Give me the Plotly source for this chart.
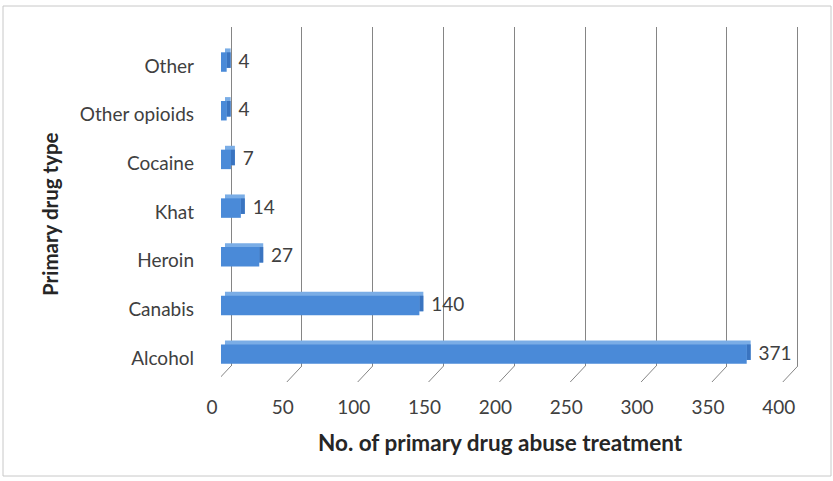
import plotly.graph_objects as go

categories = ["Alcohol", "Canabis", "Heroin", "Khat", "Cocaine", "Other opioids", "Other"]
values = [371, 140, 27, 14, 7, 4, 4]
x_ticks = [0, 50, 100, 150, 200, 250, 300, 350, 400]

W, H = 833, 481
L, R, T, B = 221, 33, 27, 115
PW, PH = W - L - R, H - T - B
PXU = 1.417                      # px per data unit on the value axis
DEPTH = 2.8                      # 3-D depth (data units)
GRID_SHIFT = 7.06                # back wall offset (data units)

pos = list(range(len(categories)))
font_fam = "Lato, Open Sans, sans-serif"
txt = "#404040"
FS = 19

fig = go.Figure()
# top face (lighter)
fig.add_trace(go.Bar(y=pos, x=values, base=DEPTH, orientation="h", width=0.40, offset=-0.04,
                     marker=dict(color="#7aade6", line=dict(width=0)), hoverinfo="skip", showlegend=False))
# side face (darker) with value labels
fig.add_trace(go.Bar(y=pos, x=[DEPTH] * len(values), base=values, orientation="h", width=0.32, offset=-0.04,
                     marker=dict(color="#3a74c0", line=dict(width=0)), text=[f" {v}" for v in values],
                     textposition="outside", constraintext="none", cliponaxis=False,
                     textfont=dict(family=font_fam, size=FS, color=txt), hoverinfo="skip", showlegend=False))
# front face
fig.add_trace(go.Bar(y=pos, x=values, orientation="h", width=0.40, offset=-0.12,
                     marker=dict(color="#4a8ad8", line=dict(width=0)), hoverinfo="skip", showlegend=False))
# carrier for the back-wall grid axis
fig.add_trace(go.Scatter(x=[0], y=[0], xaxis="x2", mode="markers", marker=dict(opacity=0),
                         hoverinfo="skip", showlegend=False))

xmax = PW / PXU
fig.update_layout(
    width=W, height=H, margin=dict(l=L, r=R, t=T, b=B),
    paper_bgcolor="white", plot_bgcolor="rgba(0,0,0,0)",
    barmode="overlay",
    font=dict(family=font_fam, size=FS, color=txt),
    xaxis=dict(range=[0, xmax], tickvals=x_ticks, ticktext=[str(v) for v in x_ticks],
               showgrid=False, zeroline=False, showline=False, ticks="",
               ticklabelshift=-9, ticklabelstandoff=28,
               tickfont=dict(family=font_fam, size=FS, color=txt)),
    xaxis2=dict(overlaying="x", anchor="y", range=[-GRID_SHIFT, xmax - GRID_SHIFT], tickvals=x_ticks,
                showticklabels=False, showgrid=True, gridcolor="#858585", gridwidth=1,
                zeroline=False, showline=False, ticks=""),
    yaxis=dict(range=[-0.164, 6.80], tickvals=pos, ticktext=categories, showgrid=False,
               zeroline=False, showline=False, ticks="", ticklabelstandoff=26,
               tickfont=dict(family=font_fam, size=FS, color=txt)),
)

shapes = []
for v in x_ticks:
    shapes.append(dict(type="line", xref="x2", yref="paper", x0=v, y0=0, x1=v - 15 / PXU, y1=-16 / PH,
                       line=dict(color="#858585", width=1)))
shapes.append(dict(type="rect", xref="paper", yref="paper",
                   x0=(3 - L) / PW, x1=(831 - L) / PW, y0=(T + PH - 476) / PH, y1=(T + PH - 6) / PH,
                   line=dict(color="#c8c8c8", width=1)))
fig.update_layout(shapes=shapes)

fig.add_annotation(text="<b>Primary drug type</b>", xref="paper", yref="paper",
                   x=(50 - L) / PW, y=(T + PH - 214) / PH, textangle=-90, showarrow=False,
                   xanchor="center", yanchor="middle", font=dict(family=font_fam, size=20.5, color="#262626"))
fig.add_annotation(text="<b>No. of primary drug abuse treatment</b>", xref="paper", yref="paper",
                   x=(500 - L) / PW, y=(T + PH - 442) / PH, showarrow=False,
                   xanchor="center", yanchor="middle", font=dict(family=font_fam, size=22.5, color="#262626"))

fig.write_html("out.html")
